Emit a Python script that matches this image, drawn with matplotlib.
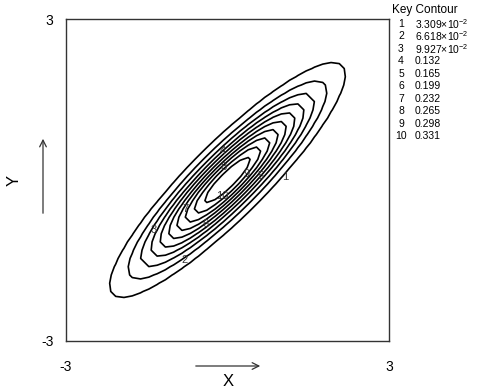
import numpy as np
import matplotlib
matplotlib.use("Agg")
import matplotlib.pyplot as plt

plt.rcParams['font.family'] = ['Liberation Sans', 'DejaVu Sans']
plt.rcParams['mathtext.fontset'] = 'custom'
plt.rcParams['mathtext.rm'] = 'Liberation Sans'

# bivariate normal, unit variances, correlation RHO, sampled on a coarse grid
RHO = 0.9
N_GRID = 40
X_RANGE = (-3, 3)
Y_RANGE = (-3, 3)

KEYS = [1, 2, 3, 4, 5, 6, 7, 8, 9, 10]
LEVELS = [0.03309, 0.06618, 0.09927, 0.132, 0.165, 0.199, 0.232, 0.265, 0.298, 0.331]
LEVEL_TEXT = [r"3.309$\times$10$^{-2}$", r"6.618$\times$10$^{-2}$", r"9.927$\times$10$^{-2}$",
              "0.132", "0.165", "0.199", "0.232", "0.265", "0.298", "0.331"]

# where the contour numbers sit on the picture
LABEL_X = [1.07, -0.79, -1.38, -0.08, 0.62, -0.40, -0.79, -0.08, 0.36, -0.10]
LABEL_Y = [0.06, -1.49, -0.93, 0.54, 0.07, -0.82, -0.54, 0.24, 0.11, -0.30]

x = np.linspace(*X_RANGE, N_GRID)
y = np.linspace(*Y_RANGE, N_GRID)
X, Y = np.meshgrid(x, y)
Q = (X**2 - 2*RHO*X*Y + Y**2) / (1 - RHO**2)
Z = np.exp(-Q/2) / (2*np.pi*np.sqrt(1 - RHO**2))

W, H = 484, 392
fig = plt.figure(figsize=(W/100, H/100), dpi=100)
ax = fig.add_axes([66/W, 1-341/H, (389-66)/W, (341-19)/H])

ax.contour(X, Y, Z, levels=LEVELS, colors='black', linewidths=1.2)
for k, lx, ly in zip(KEYS, LABEL_X, LABEL_Y):
    ax.text(lx, ly, str(k), fontsize=8, ha='center', va='center', color='#333333')

ax.set_xlim(*X_RANGE); ax.set_ylim(*Y_RANGE)
ax.set_xticks([X_RANGE[0], X_RANGE[1]]); ax.set_yticks([Y_RANGE[0], Y_RANGE[1]])
ax.set_xticklabels(["-3", "3"]); ax.set_yticklabels(["-3", "3"])
ax.tick_params(axis='x', length=0, pad=14, labelsize=10)
ax.tick_params(axis='y', length=0, pad=9, labelsize=10)
for side in ax.spines.values():
    side.set_color('#333333'); side.set_linewidth(1.0)

# axis titles with arrows
fx = lambda px: px / W
fy = lambda py: 1 - py / H
fig.text(fx(228), fy(382), "X", fontsize=12, ha='center', va='center')
fig.add_artist(matplotlib.patches.FancyArrowPatch((fx(193), fy(366)), (fx(263), fy(366)),
               transform=fig.transFigure, arrowstyle='->', mutation_scale=12, lw=0.9, color='#333333'))
fig.text(fx(14), fy(180), "Y", fontsize=12, ha='center', va='center', rotation=90)
fig.add_artist(matplotlib.patches.FancyArrowPatch((fx(43), fy(216)), (fx(43), fy(136)),
               transform=fig.transFigure, arrowstyle='->', mutation_scale=12, lw=0.9, color='#333333'))

# key
fig.text(fx(392), fy(10), "Key Contour", fontsize=8.5, ha='left', va='center')
for i, (k, t) in enumerate(zip(KEYS, LEVEL_TEXT)):
    yy = fy(24 + i*12.44)
    fig.text(fx(401), yy, str(k), fontsize=7.5, ha='center', va='center')
    fig.text(fx(415), yy, t, fontsize=7.5, ha='left', va='center')

fig.savefig("out.png", dpi=100)
